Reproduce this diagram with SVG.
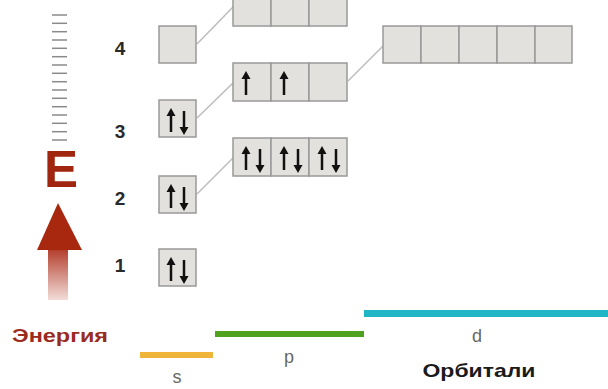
<svg xmlns="http://www.w3.org/2000/svg" width="608" height="389" viewBox="0 0 608 389">
<style>
.box{fill:#e3e1dd;stroke:#999;stroke-width:1.5}
.conn{stroke:#bcbcbc;stroke-width:1.5;fill:none}
.tick{stroke:#8a8a8a;stroke-width:1.5}
.num{font-family:"Liberation Sans",Arial,sans-serif;font-weight:bold;font-size:19px;fill:#2a2a2a;text-anchor:middle}
.lbl{font-family:"Liberation Sans",Arial,sans-serif;font-size:18px;fill:#666;text-anchor:middle}
.e{fill:#111}
</style>
<defs>
<linearGradient id="shaft" x1="0" y1="0" x2="0" y2="1">
<stop offset="0" stop-color="#b23a28"/>
<stop offset="1" stop-color="#f2dcd8"/>
</linearGradient>
<g id="up"><line x1="0" y1="6" x2="0" y2="24" stroke="#111" stroke-width="2.5"/><polygon points="0,0 -4.5,8 4.5,8" class="e"/></g>
<g id="dn"><line x1="0" y1="0" x2="0" y2="18" stroke="#111" stroke-width="2.5"/><polygon points="-4.5,16 4.5,16 0,24" class="e"/></g>
</defs>
<rect width="608" height="389" fill="#fff"/>

<g id="energy-axis">
<g class="tick">
<line x1="52" y1="15" x2="67" y2="15"/><line x1="52" y1="23.3" x2="67" y2="23.3"/><line x1="52" y1="31.7" x2="67" y2="31.7"/><line x1="52" y1="40" x2="67" y2="40"/>
<line x1="52" y1="48.3" x2="67" y2="48.3"/><line x1="52" y1="56.7" x2="67" y2="56.7"/><line x1="52" y1="65" x2="67" y2="65"/><line x1="52" y1="73.3" x2="67" y2="73.3"/>
<line x1="52" y1="81.7" x2="67" y2="81.7"/><line x1="52" y1="90" x2="67" y2="90"/><line x1="52" y1="98.3" x2="67" y2="98.3"/><line x1="52" y1="106.7" x2="67" y2="106.7"/>
<line x1="52" y1="115" x2="67" y2="115"/><line x1="52" y1="123.3" x2="67" y2="123.3"/><line x1="52" y1="131.7" x2="67" y2="131.7"/><line x1="52" y1="140" x2="67" y2="140"/>
</g>
<text x="61" y="187" font-family="'Liberation Sans',Arial,sans-serif" font-weight="bold" font-size="51" fill="#a1260f" text-anchor="middle">E</text>
<rect x="48" y="248" width="20" height="52" fill="url(#shaft)"/>
<polygon points="58,203 37,250 82,250" fill="#a8280f"/>
<text x="12" y="342" font-family="'Liberation Sans',Arial,sans-serif" font-weight="bold" font-size="19" fill="#9a2b1e" textLength="96" lengthAdjust="spacingAndGlyphs">Энергия</text>
</g>

<g id="levels">
<text class="num" x="120" y="55">4</text>
<text class="num" x="120" y="138">3</text>
<text class="num" x="120" y="205">2</text>
<text class="num" x="120" y="272">1</text>
</g>

<g id="connectors">
<line class="conn" x1="197" y1="44" x2="233" y2="7"/>
<line class="conn" x1="197" y1="118" x2="233" y2="83"/>
<line class="conn" x1="197" y1="194" x2="233" y2="158"/>
<line class="conn" x1="348" y1="81" x2="383" y2="46"/>
</g>

<g id="s4"><rect class="box" x="159" y="26" width="37" height="37"/></g>
<g id="s3"><rect class="box" x="159" y="100" width="37" height="37"/><use href="#up" x="171" y="108"/><use href="#dn" x="184" y="111"/></g>
<g id="s2"><rect class="box" x="159" y="176" width="37" height="37"/><use href="#up" x="171" y="184"/><use href="#dn" x="184" y="187"/></g>
<g id="s1"><rect class="box" x="159" y="249" width="37" height="37"/><use href="#up" x="171" y="257"/><use href="#dn" x="184" y="260"/></g>

<g id="p4">
<rect class="box" x="233" y="-12" width="38" height="38"/><rect class="box" x="271" y="-12" width="38" height="38"/><rect class="box" x="309" y="-12" width="38" height="38"/>
</g>
<g id="p3">
<rect class="box" x="233" y="63" width="38" height="38"/><rect class="box" x="271" y="63" width="38" height="38"/><rect class="box" x="309" y="63" width="38" height="38"/>
<use href="#up" x="246" y="71"/><use href="#up" x="284" y="71"/>
</g>
<g id="p2">
<rect class="box" x="233" y="138" width="38" height="38"/><rect class="box" x="271" y="138" width="38" height="38"/><rect class="box" x="309" y="138" width="38" height="38"/>
<use href="#up" x="246" y="146"/><use href="#dn" x="260" y="149"/>
<use href="#up" x="284" y="146"/><use href="#dn" x="298" y="149"/>
<use href="#up" x="322" y="146"/><use href="#dn" x="336" y="149"/>
</g>
<g id="d3">
<rect class="box" x="383" y="26" width="38" height="37"/><rect class="box" x="421" y="26" width="38" height="37"/><rect class="box" x="459" y="26" width="38" height="37"/><rect class="box" x="497" y="26" width="38" height="37"/><rect class="box" x="535" y="26" width="37" height="37"/>
</g>

<g id="orbital-axis">
<rect x="140" y="352" width="73" height="6" fill="#f1b43a"/>
<rect x="215" y="331" width="149" height="6" fill="#4fa21f"/>
<rect x="364" y="310" width="244" height="7" fill="#1fb6c6"/>
<text class="lbl" x="177" y="383">s</text>
<text class="lbl" x="289" y="363">p</text>
<text class="lbl" x="477" y="342">d</text>
<text x="479" y="377" font-family="'Liberation Sans',Arial,sans-serif" font-weight="bold" font-size="19" fill="#1a1a1a" text-anchor="middle" textLength="113" lengthAdjust="spacingAndGlyphs">Орбитали</text>
</g>
</svg>
